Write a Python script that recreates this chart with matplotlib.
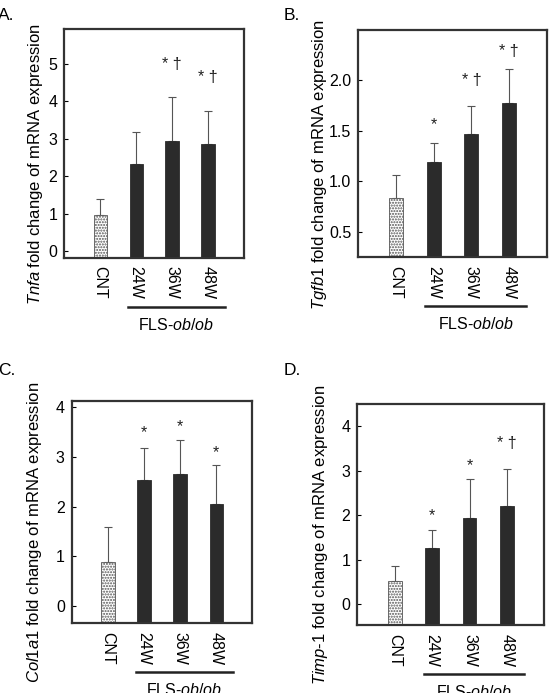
import numpy as np
import matplotlib
matplotlib.use('Agg')
import matplotlib.pyplot as plt

# Fonts: Arial-like text, italic gene names through mathtext
plt.rcParams['font.family'] = ['Liberation Sans', 'DejaVu Sans']
plt.rcParams['mathtext.fontset'] = 'custom'
plt.rcParams['mathtext.rm'] = 'Liberation Sans'
plt.rcParams['mathtext.it'] = 'Liberation Sans:italic'
plt.rcParams['hatch.linewidth'] = 1.0

# Data (mean and upper SD of fold change)
groups = ['CNT', '24W', '36W', '48W']

tnfa_mean = [0.97, 2.31, 2.95, 2.86]
tnfa_sd = [0.41, 0.86, 1.15, 0.89]
tnfa_marks = ['', '', '* \u2020', '* \u2020']

tgfb1_mean = [0.83, 1.19, 1.47, 1.78]
tgfb1_sd = [0.23, 0.19, 0.28, 0.33]
tgfb1_marks = ['', '*', '* \u2020', '* \u2020']

col1a1_mean = [0.88, 2.54, 2.65, 2.05]
col1a1_sd = [0.71, 0.63, 0.68, 0.78]
col1a1_marks = ['', '*', '*', '*']

timp1_mean = [0.52, 1.27, 1.93, 2.20]
timp1_sd = [0.33, 0.40, 0.88, 0.83]
timp1_marks = ['', '*', '*', '* \u2020']

dark = '#2b2b2b'
fs = 11.5


# Draw one bar panel with error bars, significance marks and group labels
def bar_panel(ax, mean, sd, marks, ylabel, ylim, yticks, mark_gap, label_dx):
    x = np.arange(len(groups))
    base = ylim[0]
    heights = [m - base for m in mean]
    colors = ['white'] + [dark] * 3
    bars = ax.bar(x, heights, bottom=base, width=0.37, color=colors,
                  edgecolor=dark, linewidth=0.6, zorder=2)
    bars[0].set_hatch('......')
    bars[0].set_edgecolor('#555555')
    ax.errorbar(x, mean, yerr=[np.zeros(len(sd)), sd], fmt='none',
                ecolor='#555555', elinewidth=0.8, capsize=3, capthick=0.8,
                zorder=1)

    # significance marks above the error bars
    for i, m in enumerate(marks):
        if m:
            ax.annotate(m, xy=(x[i], mean[i] + sd[i]), xytext=(0, mark_gap[i]),
                        textcoords='offset points', ha='center', va='center',
                        fontsize=11.5, color='#222222')

    ax.set_xlim(-1, 4)
    ax.set_ylim(ylim)
    ax.set_yticks(yticks)
    if isinstance(yticks[0], float):
        ax.set_yticklabels(['%.1f' % t for t in yticks])
    ax.set_xticks(x)
    ax.set_xticklabels(groups, rotation=270, va='top', ha='center', fontsize=fs)
    ax.tick_params(axis='x', length=0, pad=6)
    ax.tick_params(axis='y', direction='in', length=3, width=0.8,
                   labelsize=fs, pad=5)
    for s in ax.spines.values():
        s.set_linewidth(1.6)
        s.set_color('#333333')

    w = ax.get_position().width * 552
    ax.text(-label_dx / w, 0.41, ylabel, transform=ax.transAxes, rotation=90,
            ha='center', va='center', rotation_mode='anchor', fontsize=12)

    # FLS-ob/ob bracket under the three groups
    h = ax.get_position().height * 693
    tr = ax.get_xaxis_transform()
    ax.plot([0.77, 3.46], [-49 / h, -49 / h], color='#222222', lw=1.8,
            transform=tr, clip_on=False)
    ax.text(2.12, -67 / h, r'FLS-$\mathit{ob/ob}$', transform=tr,
            ha='center', va='center', fontsize=fs)


fig = plt.figure(figsize=(5.52, 6.93), dpi=100)

ax_a = fig.add_axes([0.1165, 0.6281, 0.3255, 0.3296])
ax_b = fig.add_axes([0.6491, 0.6287, 0.3413, 0.3280])
ax_c = fig.add_axes([0.1299, 0.1006, 0.3272, 0.3212])
ax_d = fig.add_axes([0.6473, 0.0977, 0.3388, 0.3198])

bar_panel(ax_a, tnfa_mean, tnfa_sd, tnfa_marks,
          r'$\mathit{Tnfa}$ fold change of mRNA expression',
          (-0.18, 5.92), [0, 1, 2, 3, 4, 5], [0, 0, 24, 24], 29)
bar_panel(ax_b, tgfb1_mean, tgfb1_sd, tgfb1_marks,
          r'$\mathit{Tgfb1}$ fold change of mRNA expression',
          (0.246, 2.50), [0.5, 1.0, 1.5, 2.0], [0, 13, 18, 13], 39)
bar_panel(ax_c, col1a1_mean, col1a1_sd, col1a1_marks,
          r'$\mathit{Col1a1}$ fold change of mRNA expression',
          (-0.35, 4.13), [0, 1, 2, 3, 4], [0, 11, 10, 9], 37)
bar_panel(ax_d, timp1_mean, timp1_sd, timp1_marks,
          r'$\mathit{Timp}$-$\mathit{1}$ fold change of mRNA expression',
          (-0.48, 4.51), [0, 1, 2, 3, 4], [0, 10, 10, 19], 37)

# Panel letters
fig.text(-0.004, 0.978, 'A.', fontsize=12.5, va='center')
fig.text(0.513, 0.978, 'B.', fontsize=12.5, va='center')
fig.text(-0.004, 0.465, 'C.', fontsize=12.5, va='center')
fig.text(0.513, 0.465, 'D.', fontsize=12.5, va='center')

plt.savefig('out.png', dpi=100)
